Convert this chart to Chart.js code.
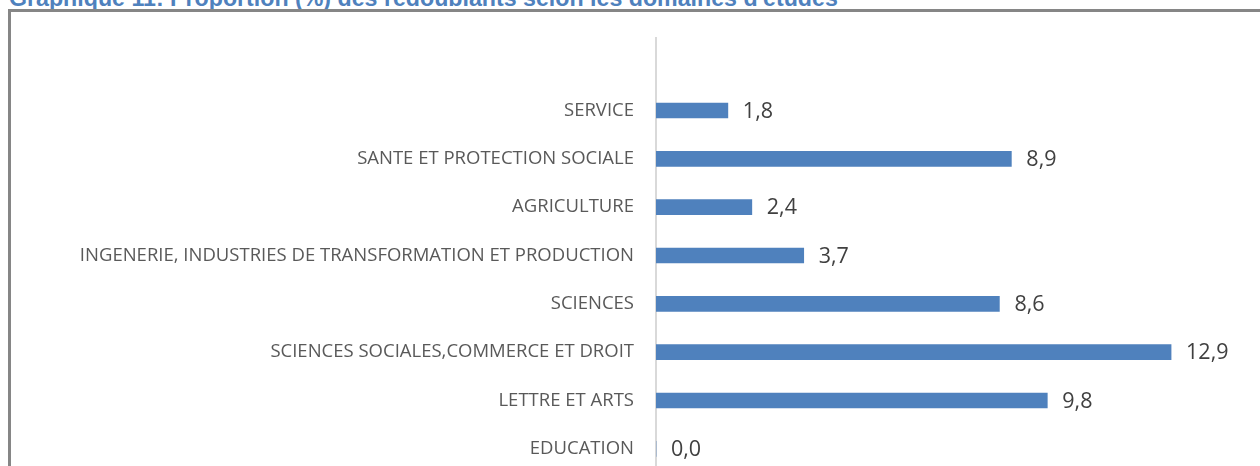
<!DOCTYPE html>
<html lang="fr">
<head>
<meta charset="utf-8">
<title>Redoublants par domaine d'études</title>
<script src="https://cdn.jsdelivr.net/npm/chart.js@4.4.1/dist/chart.umd.min.js"></script>
<style>
  html, body { margin: 0; padding: 0; background: #fff; overflow: hidden; }
  body { width: 1260px; height: 466px; position: relative; }
  #titre {
    position: absolute; left: 9px; top: -13px; white-space: nowrap;
    font: bold 23.2px/23px "Liberation Sans", Arial, sans-serif; color: #4F81BD;
  }
  #cadre {
    position: absolute; left: 8px; top: 9px; width: 1252px; height: 457px;
    border-top: 3px solid #868686; border-left: 3px solid #868686;
  }
  #wrap { position: absolute; left: 0; top: 0; width: 1260px; height: 520px; }
  #barChart { display: block; width: 1260px; height: 520px; }
</style>
</head>
<body>
<div id="titre">Graphique 11: Proportion (%) des redoublants selon les domaines d'études</div>
<div id="cadre"></div>
<div id="wrap"><canvas id="barChart" width="1260" height="520"></canvas></div>
<script>
   // domaines, du haut vers le bas (la première ligne reste vide)
   var domaines = [
       '',
       'SERVICE',
       'SANTE ET PROTECTION SOCIALE',
       'AGRICULTURE',
       'INGENERIE, INDUSTRIES DE TRANSFORMATION ET PRODUCTION',
       'SCIENCES',
       'SCIENCES SOCIALES,COMMERCE ET DROIT',
       'LETTRE ET ARTS',
       'EDUCATION'
   ]
   var redoublants = [null, 1.8, 8.9, 2.4, 3.7, 8.6, 12.9, 9.8, 0.0]

   // valeurs écrites à droite des barres, virgule décimale
   var etiquettes = {
       id: 'etiquettes',
       afterDatasetsDraw: function(chart) {
           var ctx = chart.ctx
           var meta = chart.getDatasetMeta(0)
           ctx.save()
           ctx.font = '21.5px "Open Sans", sans-serif'
           ctx.fillStyle = '#404040'
           ctx.textAlign = 'left'
           ctx.textBaseline = 'middle'
           meta.data.forEach(function(bar, i) {
               var v = redoublants[i]
               if (v === null) return
               ctx.fillText(v.toFixed(1).replace('.', ','), bar.x + 15, bar.y + 1)
           })
           ctx.restore()
       }
   }

   var ctx = document.getElementById('barChart').getContext('2d');
   var barChart = new Chart(ctx, {
       type: 'bar',
       data: {
           labels: domaines,
           datasets: [{
               data: redoublants,
               backgroundColor: '#4F81BD',
               borderWidth: 0,
               barThickness: 15
           }]
       },
       options: {
           indexAxis: 'y',
           responsive: false,
           maintainAspectRatio: false,
           animation: false,
           layout: {
               autoPadding: false,
               padding: { left: 10, top: 38, right: 45, bottom: 47 }
           },
           plugins: {
               legend: { display: false },
               tooltip: { enabled: false }
           },
           scales: {
               x: {
                   display: false,
                   min: 0,
                   max: 14
               },
               y: {
                   grid: { display: false, drawTicks: false },
                   border: { color: '#D9D9D9', width: 2 },
                   afterFit: function(scale) { scale.width = 646 },
                   ticks: {
                       color: '#595959',
                       padding: 22,
                       font: { family: '"Open Sans", sans-serif', size: 18.5 }
                   }
               }
           }
       },
       plugins: [etiquettes]
   })
</script>
</body>
</html>
